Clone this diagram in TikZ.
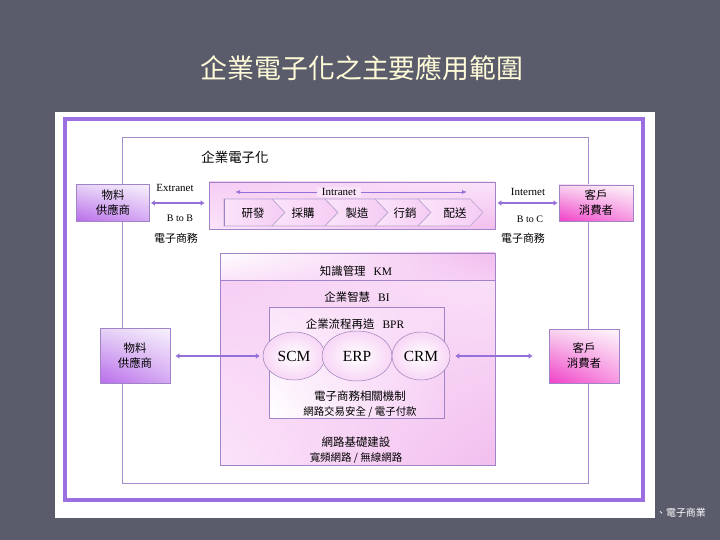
\documentclass[tikz,border=0pt]{standalone}
\usepackage{fontspec}
\usepackage{xcolor}
\setmainfont{Liberation Serif}
\newfontfamily\cjk{Noto Sans CJK TC}
\usetikzlibrary{arrows.meta,positioning,shapes.geometric,shadings}
\definecolor{slate}{HTML}{5A5C6C}
\definecolor{cream}{HTML}{FFFBD8}
\definecolor{frameviolet}{HTML}{9B6FE0}
\definecolor{thinviolet}{HTML}{A38ECB}
\definecolor{arrviolet}{HTML}{9470D8}
\definecolor{edgeviolet}{HTML}{A184C8}
\definecolor{chevedge}{HTML}{B9A6D2}
\definecolor{pinkA}{HTML}{F6CCF4}
\definecolor{pinkB}{HTML}{FBE4FA}
\definecolor{pinkC}{HTML}{F2BEEE}
\definecolor{supdeep}{HTML}{B86CEA}
\definecolor{suplite}{HTML}{E6D2F7}
\definecolor{cusdeep}{HTML}{F040C8}
\definecolor{cuslite}{HTML}{F8D4F0}
\tikzset{
  cjklabel/.style={font=\cjk\fontsize{11.5}{14}\selectfont,align=center,inner sep=1pt},
  rmlabel/.style={font=\fontsize{11}{13}\selectfont,inner sep=1pt},
  mixlabel/.style={font=\fontsize{11.5}{14}\selectfont,inner sep=1pt},
  partybox/.style={draw=edgeviolet,line width=0.8bp,align=center,inner sep=0pt,
                   font=\cjk\fontsize{11.5}{15}\selectfont},
  supplier/.style={partybox,upper left=suplite,upper right=white!70!suplite,
                   lower left=supdeep,lower right=white!40!supdeep},
  customer/.style={partybox,upper left=cuslite,upper right=white!80!cuslite,
                   lower left=cusdeep,lower right=white!45!cusdeep},
  pinkbox/.style={draw=edgeviolet,line width=0.8bp,inner sep=0pt,
                  upper left=pinkA,upper right=pinkB,lower left=pinkB,lower right=pinkC},
  bandbox/.style={draw=edgeviolet,line width=0.8bp,inner sep=0pt,
                  upper left=white,upper right=pinkC,lower left=pinkB,lower right=pinkA},
  sysellipse/.style={ellipse,draw=edgeviolet!80!gray,line width=0.5bp,inner sep=0pt,
                     inner color=white,outer color=pinkA!80,
                     font=\fontsize{15.5}{18}\selectfont},
  biarr/.style={{Latex[length=4bp,width=6bp]}-{Latex[length=4bp,width=6bp]},
                arrviolet,line width=2.2bp},
  thinarr/.style={-{Latex[length=5bp,width=4bp]},arrviolet,line width=0.8bp}
}
\begin{document}
\begin{tikzpicture}[x=1bp,y=-1bp]
  \useasboundingbox (0,0) rectangle (720,540);
  \fill[slate] (0,0) rectangle (720,540);
  % white sheet and frames
  \fill[white] (55,112) rectangle (655,518);
  \draw[frameviolet,line width=4bp] (65,119) rectangle (643,500);
  \draw[thinviolet,line width=0.8bp] (122,137) rectangle (588,483);

  \node[font=\cjk\fontsize{27}{30}\selectfont,text=cream] (title) at (362,68) {企業電子化之主要應用範圍};
  \node[font=\cjk\fontsize{13.5}{16}\selectfont] (ebiz) at (235,157) {企業電子化};

  % top row: suppliers - intranet - customers
  \node[supplier,minimum width=73bp,minimum height=37bp] (sup1) at (113,203) {物料\\供應商};
  \node[pinkbox,minimum width=286bp,minimum height=47bp] (intra) at (352,205.5) {};
  \node[customer,minimum width=74bp,minimum height=36bp] (cus1) at (596,203) {客戶\\消費者};

  \foreach \a/\b in {224/272,272/325,325/375,375/418,418/470}{
    \ifnum\a=224
      \filldraw[chevedge,line width=0.6bp,left color=pinkB,right color=pinkA]
        (\a,199) -- (\b,199) -- (\b+13,212.5) -- (\b,226) -- (\a,226) -- cycle;
    \else
      \filldraw[chevedge,line width=0.6bp,left color=pinkB,right color=pinkA]
        (\a,199) -- (\b,199) -- (\b+13,212.5) -- (\b,226) -- (\a,226) -- (\a+13,212.5) -- cycle;
    \fi
  }
  \draw[edgeviolet,line width=0.8bp] (224,199) -- (224,226);
  \node[cjklabel] (rd)  at (253,213) {研發};
  \node[cjklabel] (buy) at (303,213) {採購};
  \node[cjklabel] (mfg) at (357,213) {製造};
  \node[cjklabel] (mkt) at (405,213) {行銷};
  \node[cjklabel] (dlv) at (455,213) {配送};

  \node[rmlabel,fill=pinkB,inner xsep=5bp] (intralbl) at (339,192) {Intranet};
  \coordinate (intl) at (235,192);
  \coordinate (intr) at (467,192);
  \draw[thinarr] (intralbl) -- (intl);
  \draw[thinarr] (intralbl) -- (intr);

  \node[rmlabel] (extra) at (175,188) {Extranet};
  \draw[biarr,shorten <=1bp,shorten >=4bp] (sup1.east) -- (sup1.east -| intra.west);
  \node[rmlabel,font=\fontsize{10}{12}\selectfont] (b2b) at (180,218) {B to B};
  \node[cjklabel,font=\cjk\fontsize{11}{13}\selectfont] (ec1) at (176,238) {電子商務};

  \node[rmlabel] (inter) at (528,192) {Internet};
  \draw[biarr,shorten <=2bp,shorten >=1bp] (cus1.west -| intra.east) -- (cus1.west);
  \node[rmlabel,font=\fontsize{10}{12}\selectfont] (b2c) at (530,219) {B to C};
  \node[cjklabel,font=\cjk\fontsize{11}{13}\selectfont] (ec2) at (523,238) {電子商務};

  % central stack
  \node[pinkbox,minimum width=275bp,minimum height=212bp] (kmbody) at (357.5,359) {};
  \node[bandbox,minimum width=275bp,minimum height=27bp] (kmband) at (357.5,266.5) {};
  \node[mixlabel] (km) at (356,271) {{\cjk 知識管理}\hspace{8bp}KM};
  \node[mixlabel] (bi) at (357,297) {{\cjk 企業智慧}\hspace{8bp}BI};
  \node[pinkbox,minimum width=175bp,minimum height=111bp,
        upper left=pinkB,upper right=pinkA!70,lower left=white,lower right=pinkA] (bpr) at (356.5,362.5) {};
  \node[mixlabel] (bprlbl) at (355,324) {{\cjk 企業流程再造}\hspace{8bp}BPR};

  \node[sysellipse,minimum width=62bp,minimum height=48bp] (scm) at (294,356) {SCM};
  \node[sysellipse,minimum width=70bp,minimum height=50bp] (erp) at (357,356) {ERP};
  \node[sysellipse,minimum width=58bp,minimum height=48bp] (crm) at (421,356) {CRM};

  \node[cjklabel,font=\cjk\fontsize{11.5}{15}\selectfont] (ecrule) at (360,404)
    {電子商務相關機制\\{\fontsize{10.5}{13}\selectfont 網路交易安全 / 電子付款}};
  \node[cjklabel,font=\cjk\fontsize{11.5}{15}\selectfont] (infra) at (356,450)
    {網路基礎建設\\{\fontsize{10.5}{13}\selectfont 寬頻網路 / 無線網路}};

  % lower row
  \node[supplier,minimum width=70bp,minimum height=55bp] (sup2) at (135,356) {物料\\供應商};
  \node[customer,minimum width=70bp,minimum height=54bp] (cus2) at (584,356) {客戶\\消費者};
  \draw[biarr,shorten <=5bp,shorten >=3bp] (sup2.east) -- (scm.west);
  \draw[biarr,shorten <=5bp,shorten >=16bp] (crm.east) -- (cus2.west);

  \node[font=\cjk\fontsize{10}{12}\selectfont,text=white] (foot) at (681,513) {、電子商業};
\end{tikzpicture}
\end{document}
